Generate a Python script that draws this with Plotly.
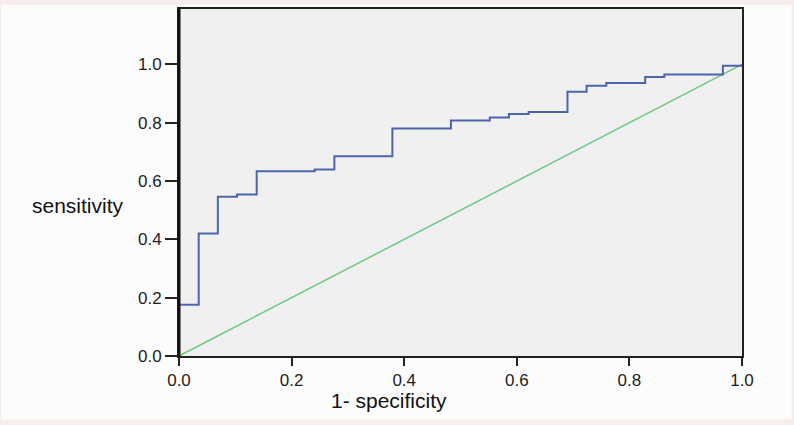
import plotly.graph_objects as go

# ROC curve points (1 - specificity, sensitivity), step-wise
fpr = [0.0, 0.0, 0.035, 0.069, 0.103, 0.138, 0.241, 0.276, 0.379, 0.483, 0.552,
       0.586, 0.621, 0.690, 0.724, 0.759, 0.828, 0.862, 0.966, 1.0]
tpr = [0.0, 0.176, 0.42, 0.546, 0.554, 0.634, 0.64, 0.685, 0.78, 0.808, 0.818,
       0.83, 0.837, 0.906, 0.927, 0.936, 0.957, 0.965, 0.995, 1.0]
ref_x = [0.0, 1.0]
ref_y = [0.0, 1.0]
tick_vals = [0.0, 0.2, 0.4, 0.6, 0.8, 1.0]
tick_text = ["0.0", "0.2", "0.4", "0.6", "0.8", "1.0"]

fig = go.Figure()
fig.add_trace(go.Scatter(x=ref_x, y=ref_y, mode="lines",
                         line=dict(color="#74c98a", width=1.6),
                         showlegend=False, hoverinfo="skip"))
fig.add_trace(go.Scatter(x=fpr, y=tpr, mode="lines", line_shape="hv",
                         line=dict(color="#4c65aa", width=2),
                         showlegend=False))

fig.update_layout(
    width=794, height=425,
    margin=dict(l=179, r=52, t=7, b=69),
    paper_bgcolor="#f7eded",
    plot_bgcolor="rgba(0,0,0,0)",
    font=dict(family="Liberation Sans, Arial, sans-serif", color="#222"),
    shapes=[
        dict(type="rect", xref="paper", yref="paper", x0=-0.316, x1=1.088,
             y0=-0.183, y1=1.012, fillcolor="#fdfcfc", line_width=0, layer="below"),
        dict(type="rect", xref="paper", yref="paper", x0=0, x1=1, y0=0, y1=1,
             fillcolor="#f0f0f0", line_width=0, layer="below"),
        dict(type="line", xref="paper", yref="paper", x0=0, x1=0, y0=0, y1=1,
             line=dict(color="#111", width=3), layer="above"),
    ],
    annotations=[
        dict(text="sensitivity", xref="paper", yref="paper",
             x=(79 - 179.5) / 562, y=(356 - 205) / 349, showarrow=False,
             font=dict(size=21, color="#111"), xanchor="center", yanchor="middle"),
        dict(text="1- specificity", xref="paper", yref="paper",
             x=(389 - 179.5) / 562, y=(356 - 401) / 349, showarrow=False,
             font=dict(size=21, color="#111"), xanchor="center", yanchor="middle"),
    ],
)
fig.update_xaxes(range=[0, 1], tickvals=tick_vals, ticktext=tick_text,
                 ticks="outside", ticklen=8, tickwidth=1.5, tickcolor="#222",
                 showline=True, linecolor="#222", linewidth=2, mirror=True,
                 showgrid=False, zeroline=False, tickfont=dict(size=17, color="#222"))
fig.update_yaxes(range=[0, 1.19], tickvals=tick_vals, ticktext=tick_text,
                 ticks="outside", ticklen=12, tickwidth=1.5, tickcolor="#222",
                 showline=True, linecolor="#222", linewidth=2, mirror=True,
                 showgrid=False, zeroline=False, tickfont=dict(size=17, color="#222"))

fig.write_html("out.html", config={"displayModeBar": False},
               post_script="document.body.style.margin='0';")
